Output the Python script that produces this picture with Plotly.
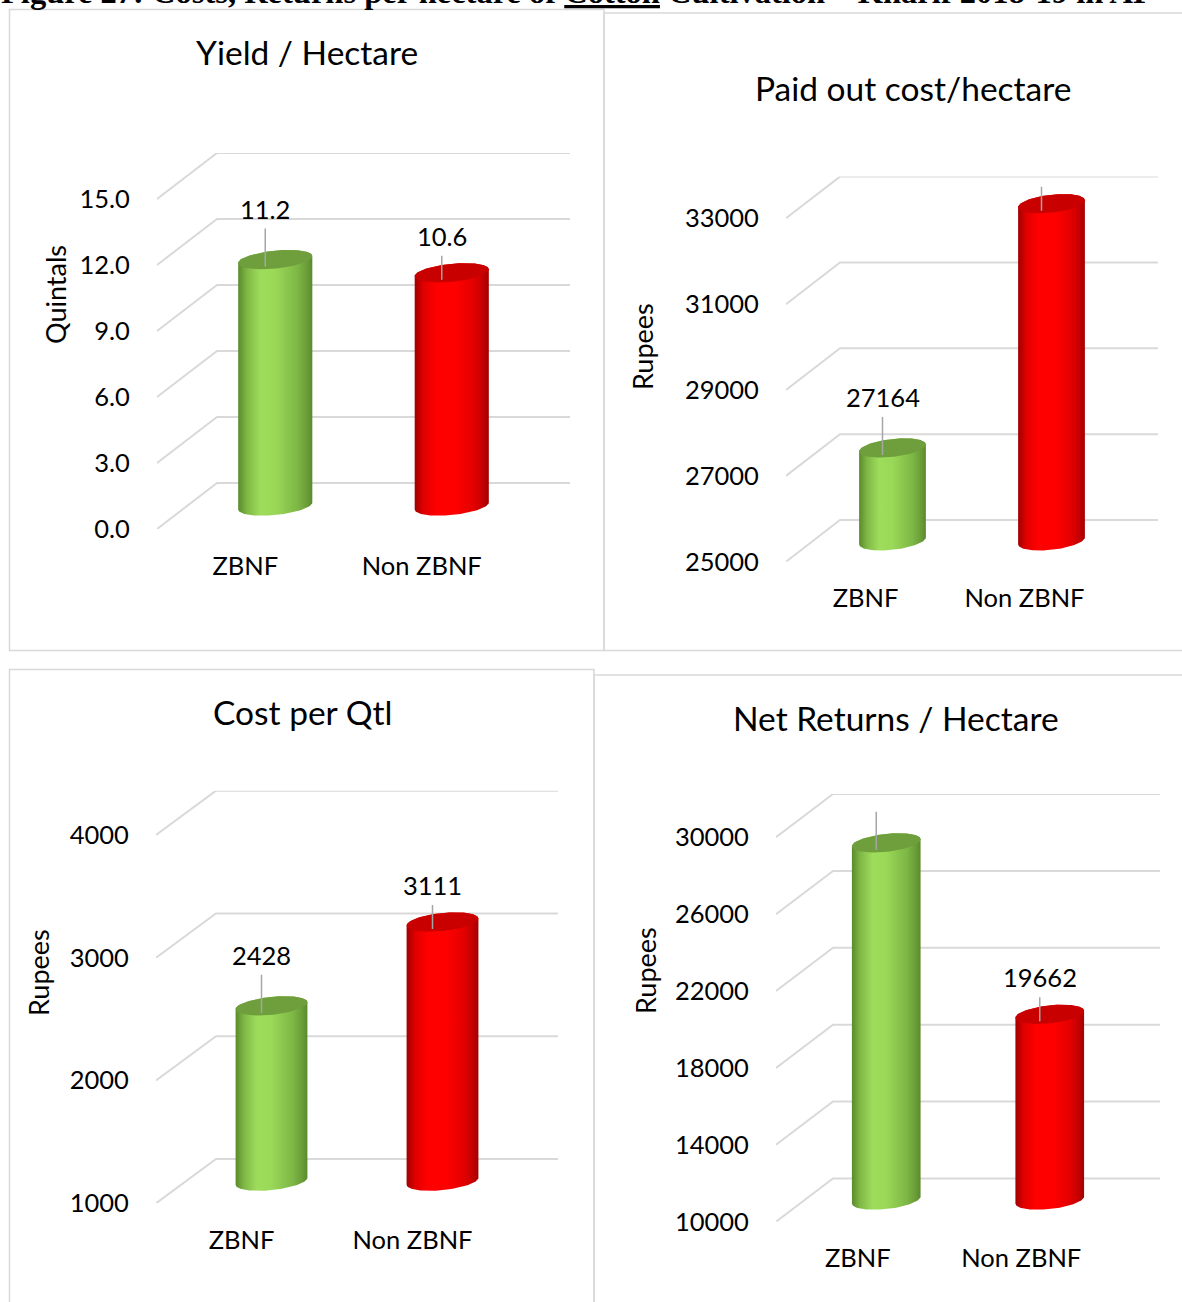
import numpy as np
import plotly.graph_objects as go

W = 1182
H = 1302

# ---------------- data ----------------
categories = ["ZBNF", "Non ZBNF"]
yield_vals = [11.2, 10.6]
paid_out_vals = [27164, 32854]
cost_per_qtl_vals = [2428, 3111]
net_return_vals = [28585, 19662]

yield_ticks = [0.0, 3.0, 6.0, 9.0, 12.0, 15.0]
paid_out_ticks = [25000, 27000, 29000, 31000, 33000]
cost_per_qtl_ticks = [1000, 2000, 3000, 4000]
net_return_ticks = [10000, 14000, 18000, 22000, 26000, 30000]

panel_titles = ["Yield / Hectare", "Paid out cost/hectare", "Cost per Qtl", "Net Returns / Hectare"]
axis_titles = ["Quintals", "Rupees", "Rupees", "Rupees"]
caption = "Figure 27: Costs, Returns per hectare of <u>Cotton</u> Cultivation \u2013 Kharif 2018-19 in AP"

# ---------------- styling / geometry (pixels) ----------------
FONT = "Lato"
GRID = "#d9d9d9"
TICK_SIZE = 25.5
TITLE_SIZE = 33.5
AXTITLE_SIZE = 27
geom = [
    dict(vals=yield_vals, ticks=yield_ticks, fmt=".1f", left=157, right=570, dx=60, dy=46,
         y_lo=529, y_hi=199, title_xy=(307, 52), ytitle_xy=(55, 295)),
    dict(vals=paid_out_vals, ticks=paid_out_ticks, fmt="d", left=786, right=1158, dx=54, dy=41.7,
         y_lo=561.7, y_hi=218.3, title_xy=(913, 88), ytitle_xy=(643, 346)),
    dict(vals=cost_per_qtl_vals, ticks=cost_per_qtl_ticks, fmt="d", left=156, right=558, dx=60, dy=44.3,
         y_lo=1203.3, y_hi=835, title_xy=(302, 712), ytitle_xy=(38, 972)),
    dict(vals=net_return_vals, ticks=net_return_ticks, fmt="d", left=776, right=1160, dx=57, dy=43.3,
         y_lo=1221.7, y_hi=837.3, title_xy=(896, 718), ytitle_xy=(645, 971)),
]
body_scales = [
    [[0, "#5a8a2c"], [0.12, "#7fb845"], [0.3, "#9edc5c"], [0.5, "#9ad858"], [0.8, "#7db745"], [0.93, "#6a9c38"], [1, "#5a8a2c"]],
    [[0, "#a00000"], [0.12, "#e00000"], [0.3, "#ff0000"], [0.55, "#ff0000"], [0.8, "#e20000"], [0.93, "#c00000"], [1, "#a20000"]],
]
cap_colors = ["#6f9e3d", "#c80000"]
label_off_px = [51, 37]      # label height above bar top
label_dx_px = -10
bar_half_frac = 0.21
ell_b_px = 9
ell_tilt_px = 3.5

fig = go.Figure()
annotations = []
shapes = []


def px2paper_x(px):
    return px / W


def px2paper_y(py):
    return 1 - py / H


for k, g in enumerate(geom):
    n = k + 1
    xa = "x" if n == 1 else f"x{n}"
    ya = "y" if n == 1 else f"y{n}"
    ticks = g["ticks"]
    tmin, tmax = ticks[0], ticks[-1]
    scale = (g["y_lo"] - g["y_hi"]) / (tmax - tmin)          # px per unit
    catw = (g["right"] - g["dx"] - g["left"]) / 2.0          # px per category
    ddx = g["dx"] / catw
    ddy = g["dy"] / scale
    xmax = 1.5 + ddx

    # back wall / side wall grid lines
    for t in ticks:
        fig.add_trace(go.Scatter(
            x=[-0.5, -0.5 + ddx, xmax], y=[t, t + ddy, t + ddy], mode="lines",
            line=dict(color=GRID, width=2), hoverinfo="skip", showlegend=False,
            xaxis=xa, yaxis=ya))

    # cylinders
    a = bar_half_frac
    for i, v in enumerate(g["vals"]):
        cx = i + 0.5 * ddx
        yb = tmin + 0.5 * ddy
        yt = v + 0.5 * ddy

        def ell(cy, tt):
            return (cx + a * np.cos(tt),
                    cy + (ell_b_px * np.sin(tt) + ell_tilt_px * np.cos(tt)) / scale)

        t1 = np.linspace(np.pi, 2 * np.pi, 60)
        t2 = np.linspace(0, np.pi, 60)
        bx, by = ell(yb, t1)
        tx, ty = ell(yt, t2)
        fig.add_trace(go.Scatter(
            x=np.concatenate([bx, tx, bx[:1]]), y=np.concatenate([by, ty, by[:1]]),
            mode="lines", fill="toself", line=dict(width=0),
            fillgradient=dict(type="horizontal", colorscale=body_scales[i]),
            hoverinfo="skip", showlegend=False, xaxis=xa, yaxis=ya))
        tc = np.linspace(0, 2 * np.pi, 120)
        cxs, cys = ell(yt, tc)
        fig.add_trace(go.Scatter(
            x=cxs, y=cys, mode="lines", fill="toself", fillcolor=cap_colors[i],
            line=dict(width=0), hoverinfo="skip", showlegend=False, xaxis=xa, yaxis=ya))

        # data label + leader line
        lx = cx + label_dx_px / catw
        ly = yt + label_off_px[i] / scale
        fig.add_trace(go.Scatter(
            x=[lx, lx], y=[ly - 20 / scale, yt - 7 / scale], mode="lines",
            line=dict(color="#a6a6a6", width=1.5), hoverinfo="skip", showlegend=False,
            xaxis=xa, yaxis=ya))
        txt = format(v, g["fmt"])
        annotations.append(dict(x=lx, y=ly, xref=xa, yref=ya, text=txt, showarrow=False,
                                font=dict(family=FONT, size=TICK_SIZE, color="black"),
                                xanchor="center", yanchor="middle"))

    fig.update_layout(**{
        ("xaxis" if n == 1 else f"xaxis{n}"): dict(
            domain=[px2paper_x(g["left"]), px2paper_x(g["right"])],
            range=[-0.5, xmax], tickmode="array", tickvals=[0, 1], ticktext=categories,
            showgrid=False, zeroline=False, showline=False, ticks="outside", ticklen=14,
            tickcolor="rgba(0,0,0,0)", tickfont=dict(family=FONT, size=TICK_SIZE, color="black"),
            anchor=ya, fixedrange=True, automargin=False),
        ("yaxis" if n == 1 else f"yaxis{n}"): dict(
            domain=[px2paper_y(g["y_lo"]), px2paper_y(g["y_hi"] - g["dy"])],
            range=[tmin, tmax + ddy], tickmode="array", tickvals=ticks,
            tickformat=(".1f" if g["fmt"] == ".1f" else "d"),
            showgrid=False, zeroline=False, showline=False, ticks="outside", ticklen=21,
            tickcolor="rgba(0,0,0,0)", tickfont=dict(family=FONT, size=TICK_SIZE, color="black"),
            anchor=xa, fixedrange=True, automargin=False),
    })

    # panel title and y-axis title
    annotations.append(dict(x=px2paper_x(g["title_xy"][0]), y=px2paper_y(g["title_xy"][1]),
                            xref="paper", yref="paper", text=panel_titles[k], showarrow=False,
                            font=dict(family=FONT, size=TITLE_SIZE, color="black"),
                            xanchor="center", yanchor="middle"))
    annotations.append(dict(x=px2paper_x(g["ytitle_xy"][0]), y=px2paper_y(g["ytitle_xy"][1]),
                            xref="paper", yref="paper", text=axis_titles[k], showarrow=False,
                            textangle=-90, font=dict(family=FONT, size=AXTITLE_SIZE, color="black"),
                            xanchor="center", yanchor="middle"))

# panel frames
frames = [(9.5, 9.5, 604, 650.5), (604, 13, 1190, 650.5), (9.5, 669.5, 594, 1310), (594, 675, 1190, 1310)]
for (x0, y0, x1, y1) in frames:
    shapes.append(dict(type="rect", xref="paper", yref="paper",
                       x0=px2paper_x(x0), x1=px2paper_x(x1), y0=px2paper_y(y0), y1=px2paper_y(y1),
                       line=dict(color="#d9d9d9", width=1.5), fillcolor="rgba(0,0,0,0)", layer="below"))

# cropped document caption at very top
annotations.append(dict(x=0, y=px2paper_y(11), xref="paper", yref="paper", text="<b>" + caption + "</b>",
                        showarrow=False, xanchor="left", yanchor="bottom", borderpad=0,
                        font=dict(family="Liberation Serif", size=32.5, color="black")))

fig.update_layout(width=W, height=H, margin=dict(l=0, r=0, t=0, b=0, pad=0, autoexpand=False),
                  autosize=False, paper_bgcolor="white", plot_bgcolor="white", showlegend=False,
                  annotations=annotations, shapes=shapes)

fig.write_html("out.html")
